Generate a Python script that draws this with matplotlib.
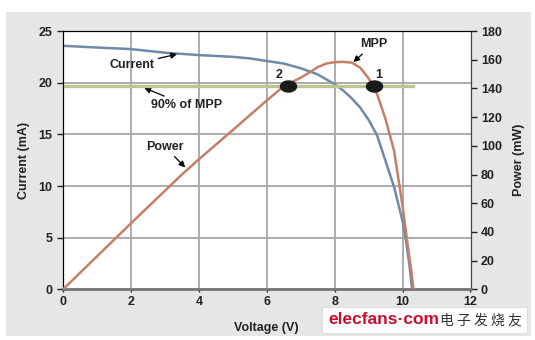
import numpy as np
import matplotlib
matplotlib.use("Agg")
import matplotlib.pyplot as plt
from matplotlib.patches import Rectangle
from matplotlib.path import Path

# Datos
voltaje_i = [0, 1, 2, 3, 4, 5, 5.5, 6, 6.5, 7, 7.5, 8, 8.25, 8.5, 8.75, 9,
             9.25, 9.5, 9.75, 10, 10.1, 10.2, 10.28]
corriente = [23.57, 23.4, 23.25, 22.9, 22.67, 22.5, 22.35, 22.1, 21.85, 21.4,
             20.8, 19.85, 19.25, 18.5, 17.6, 16.4, 14.9, 12.4, 9.9, 6.6, 4.7,
             2.4, 0]

voltaje_p = [0, 2, 3.5, 4, 5, 6, 6.5, 6.75, 7, 7.25, 7.5, 7.75, 8, 8.25, 8.5,
             8.75, 9, 9.25, 9.5, 9.75, 10, 10.15, 10.25, 10.32]
potencia = [0, 46, 80, 90.6, 111, 131.6, 141.5, 144.5, 147.5, 151, 154.8,
            157.3, 158.3, 158.5, 158, 154.5, 147, 136, 118.5, 96.5, 58, 31,
            14, 0]

mpp_90 = 142
puntos_v = [6.62, 9.17]
puntos_lbl = ["2", "1"]

x_ticks = [0, 2, 4, 6, 8, 10, 12]
yi_ticks = [0, 5, 10, 15, 20, 25]
yp_ticks = [0, 20, 40, 60, 80, 100, 120, 140, 160, 180]

plt.rcParams['font.family'] = ['Liberation Sans', 'DejaVu Sans']
plt.rcParams['font.weight'] = 'bold'

W, H = 535, 340
fig = plt.figure(figsize=(W / 100, H / 100), dpi=100)
fig.patch.set_facecolor('white')

# panel gris de fondo
fig.patches.append(Rectangle((6 / W, 1 - 336 / H), (531 - 6) / W, (336 - 12) / H,
                             transform=fig.transFigure, facecolor='#e6e6e6',
                             edgecolor='none', zorder=-5))

ax = fig.add_axes([63 / W, 1 - 289.4 / H, (470.5 - 63) / W, (289.4 - 31) / H])
ax.set_facecolor('white')
ax2 = ax.twinx()

ax.set_xlim(0, 12)
ax.set_ylim(0, 25)
ax2.set_ylim(0, 180)

grid_col = '#a6a6a6'
for v in x_ticks[1:-1]:
    ax.axvline(v, color=grid_col, lw=1.3, zorder=1)
for c in yi_ticks[1:-1]:
    ax.axhline(c, color=grid_col, lw=1.3, zorder=1)

ax.plot(voltaje_i, corriente, color='#7189a8', lw=1.8, zorder=3,
        solid_joinstyle='round')
ax2.plot([0, 10.3], [mpp_90, mpp_90], color='#bcc490', lw=2.4, zorder=2)
ax2.plot(voltaje_p, potencia, color='#c57f66', lw=1.8, zorder=3,
         solid_joinstyle='round')

# marcadores elipticos
t = np.linspace(0, 2 * np.pi, 60)
elipse = Path(np.column_stack([1.45 * np.cos(t), np.sin(t)]))
ax2.plot(puntos_v, [mpp_90] * 2, linestyle='none', marker=elipse,
         markersize=11.5, color='#1a1a1a', zorder=5)

ax.set_xticks(x_ticks)
ax.set_yticks(yi_ticks)
ax2.set_yticks(yp_ticks)
for a in (ax, ax2):
    a.tick_params(labelsize=9, colors='#222222', length=4, width=1)
ax.tick_params(axis='x', length=2, pad=3)

for s in ('left', 'top'):
    ax.spines[s].set_color('#111111')
ax.spines['bottom'].set_color('#777777')
ax.spines['bottom'].set_linewidth(1.8)
ax2.spines['right'].set_color('#444444')
ax2.spines['bottom'].set_color('#777777')
ax2.spines['bottom'].set_linewidth(1.8)

ax.set_xlabel('Voltage (V)', fontsize=9, fontweight='bold', labelpad=10, color='#222222')
ax.set_ylabel('Current (mA)', fontsize=9, fontweight='bold', labelpad=6, color='#222222')
ax2.set_ylabel('Power (mW)', fontsize=9, fontweight='bold', labelpad=8, color='#222222')

flecha = dict(arrowstyle='-|>', color='black', lw=0.9, mutation_scale=9,
              shrinkA=1, shrinkB=0)
txt = dict(fontsize=9, fontweight='bold', color='#222222', ha='center', va='center')
ax.annotate('Current', xy=(3.36, 22.76), xytext=(2.02, 21.75), arrowprops=flecha, **txt)
ax.annotate('90% of MPP', xy=(2.39, 19.5), xytext=(3.65, 17.8), arrowprops=flecha, **txt)
ax.annotate('Power', xy=(3.6, 11.8), xytext=(3.0, 13.8), arrowprops=flecha, **txt)
ax.annotate('MPP', xy=(8.55, 22.0), xytext=(9.14, 23.7), arrowprops=flecha, **txt)
for v, lbl in zip(puntos_v, puntos_lbl):
    ax.text(v - 0.25 if lbl == "2" else v + 0.12, 20.75, lbl, **txt)

# marca de agua
fig.patches.append(Rectangle((322 / W, 1 - 333 / H), (527 - 322) / W, (333 - 307) / H,
                             transform=fig.transFigure, facecolor='white',
                             edgecolor='#dddddd', lw=0.8, zorder=10))
fig.text(328 / W, 1 - 320 / H, 'elecfans·com', color='#c8102e', fontsize=12.5,
         fontweight='bold', va='center', ha='left', zorder=11)
fig.text(522 / W, 1 - 320 / H, '电 子 发 烧 友', color='#333333', fontsize=10,
         fontweight='normal', va='center', ha='right', zorder=11,
         family=['Noto Sans CJK SC'])

fig.savefig('out.png', dpi=100)
